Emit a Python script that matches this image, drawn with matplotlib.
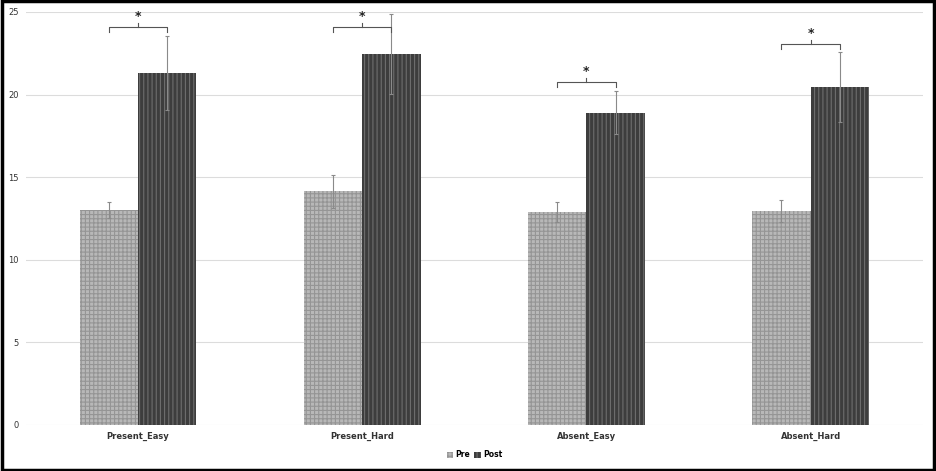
import matplotlib.pyplot as plt
import matplotlib.patches as mpatches
import numpy as np

plt.rcParams["hatch.linewidth"] = 0.8

categories = ["Present_Easy", "Present_Hard", "Absent_Easy", "Absent_Hard"]
pre_vals = [13.0, 14.15, 12.9, 12.95]
post_vals = [21.3, 22.45, 18.9, 20.45]
pre_err = [0.5, 1.0, 0.6, 0.65]
post_err = [2.25, 2.4, 1.3, 2.1]
bracket_y = [24.1, 24.1, 20.75, 23.05]

fig = plt.figure(figsize=(9.36, 4.71), dpi=100)
ax = fig.add_axes([0.0278, 0.0977, 0.958, 0.877])

x = np.arange(len(categories))
w = 0.26

ax.bar(x - w / 2, pre_vals, w, color="#b8b8b8", edgecolor="#959595",
       hatch="++++", linewidth=0, zorder=2, label="Pre")
ax.bar(x + w / 2, post_vals, w, color="#3d3d3d", edgecolor="#6e6e6e",
       hatch="||||", linewidth=0, zorder=2, label="Post")
ax.errorbar(x - w / 2, pre_vals, yerr=pre_err, fmt="none", ecolor="#8a8a8a",
            elinewidth=0.8, capsize=1.5, capthick=0.8, zorder=3)
ax.errorbar(x + w / 2, post_vals, yerr=post_err, fmt="none", ecolor="#8a8a8a",
            elinewidth=0.8, capsize=1.5, capthick=0.8, zorder=3)

# significance brackets
for xi, by in zip(x, bracket_y):
    x0, x1 = xi - w / 2, xi + w / 2
    ax.plot([x0, x0, x1, x1], [by - 0.3, by, by, by - 0.3],
            color="#555555", lw=0.8, zorder=3)
    ax.plot([xi, xi], [by, by + 0.25], color="#555555", lw=0.8, zorder=3)
    ax.text(xi, by + 0.25, "*", ha="center", va="bottom", fontsize=9,
            fontweight="bold", color="#222222")

ax.set_xlim(-0.5, 3.5)
ax.set_ylim(0, 25)
ax.set_yticks(range(0, 26, 5))
ax.set_xticks(x)
ax.set_xticklabels(categories, fontsize=6, fontweight="bold", color="#333333")
ax.tick_params(axis="y", labelsize=6, colors="#333333", length=0, pad=5)
ax.tick_params(axis="x", length=0, pad=5)
ax.grid(axis="y", color="#dcdcdc", lw=0.8, zorder=0)
for s in ax.spines.values():
    s.set_visible(False)

ax.legend(loc="upper center", bbox_to_anchor=(0.5, -0.045), ncol=2,
          frameon=False, handlelength=0.8, handleheight=0.8,
          handletextpad=0.3, columnspacing=0.6,
          prop={"size": 5.5, "weight": "bold"})

fig.patches.append(mpatches.Rectangle((0.002, 0.003), 0.996, 0.994,
                                      transform=fig.transFigure, fill=False,
                                      edgecolor="black", lw=2.5))

fig.savefig("out.png", dpi=100)
